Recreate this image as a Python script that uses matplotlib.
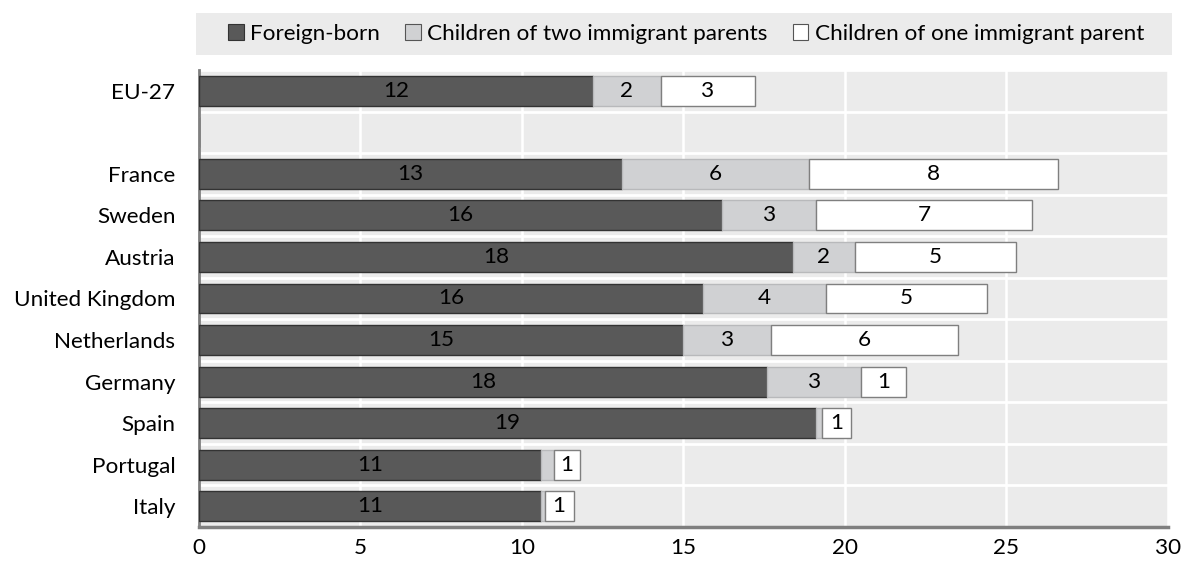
import numpy as np
import matplotlib.pyplot as plt
from matplotlib.patches import Patch, Rectangle

# Share of population by migration background (%)
countries = ["EU-27", "", "France", "Sweden", "Austria", "United Kingdom",
             "Netherlands", "Germany", "Spain", "Portugal", "Italy"]
foreign_born = [12.2, 0, 13.1, 16.2, 18.4, 15.6, 15.0, 17.6, 19.1, 10.6, 10.6]
two_parents = [2.1, 0, 5.8, 2.9, 1.9, 3.8, 2.7, 2.9, 0.2, 0.4, 0.1]
one_parent = [2.9, 0, 7.7, 6.7, 5.0, 5.0, 5.8, 1.4, 0.9, 0.8, 0.9]

series = [
    ("Foreign-born", foreign_born, "#595959", "#333333"),
    ("Children of two immigrant parents", two_parents, "#d0d1d3", "#b8b9bb"),
    ("Children of one immigrant parent", one_parent, "#ffffff", "#7f7f7f"),
]

plt.rcParams['font.family'] = ['Lato', 'DejaVu Sans']
fs = 16.2

fig = plt.figure(figsize=(11.83, 5.68), dpi=100)
ax = fig.add_axes([0.1682, 0.0722, 0.8191, 0.8046])
ax.set_facecolor("#ebebeb")

y = np.arange(len(countries))
left = np.zeros(len(countries))
for name, vals, color, edge in series:
    vals = np.array(vals)
    bars = ax.barh(y, vals, left=left, height=0.72, color=color,
                   edgecolor=edge, linewidth=1, label=name, zorder=3)
    labels = [f"{v:.0f}" if v >= 0.5 else "" for v in vals]
    ax.bar_label(bars, labels=labels, label_type="center", fontsize=fs,
                 color="black")
    left += vals

ax.set_xlim(0, 30)
ax.set_ylim(len(countries) - 0.5, -0.5)
ax.set_xticks(np.arange(0, 31, 5))
ax.set_yticks(y)
ax.set_yticklabels(countries)
ax.set_yticks(np.arange(-0.5, len(countries), 1), minor=True)
ax.tick_params(axis="both", which="both", length=0, labelsize=fs)
ax.tick_params(axis="x", pad=8)
ax.tick_params(axis="y", pad=17)

ax.grid(axis="x", color="white", linewidth=1.8, zorder=0)
ax.grid(axis="y", which="minor", color="white", linewidth=2, zorder=0)
ax.grid(axis="y", which="major", visible=False)
ax.set_axisbelow(True)

for side in ["top", "right"]:
    ax.spines[side].set_visible(False)
ax.spines["left"].set_color("#7f7f7f")
ax.spines["left"].set_linewidth(2)
ax.spines["bottom"].set_color("#7f7f7f")
ax.spines["bottom"].set_linewidth(2.5)

# legend strip across the top
fig.patches.append(Rectangle((0.1657, 0.9032), 0.825, 0.074,
                             transform=fig.transFigure, facecolor="#ebebeb",
                             edgecolor="none", zorder=0))
handles = [Patch(facecolor=c, edgecolor="#555555" if i else "#333333", linewidth=0.8)
           for i, (_, _, c, _) in enumerate(series)]
fig.legend(handles, [s[0] for s in series], loc="center",
           bbox_to_anchor=(0.58, 0.9402), ncol=3, frameon=False, fontsize=fs,
           handlelength=0.7, handleheight=0.7, handletextpad=0.3,
           columnspacing=1.1, borderaxespad=0)

fig.savefig("out.png", dpi=100)
